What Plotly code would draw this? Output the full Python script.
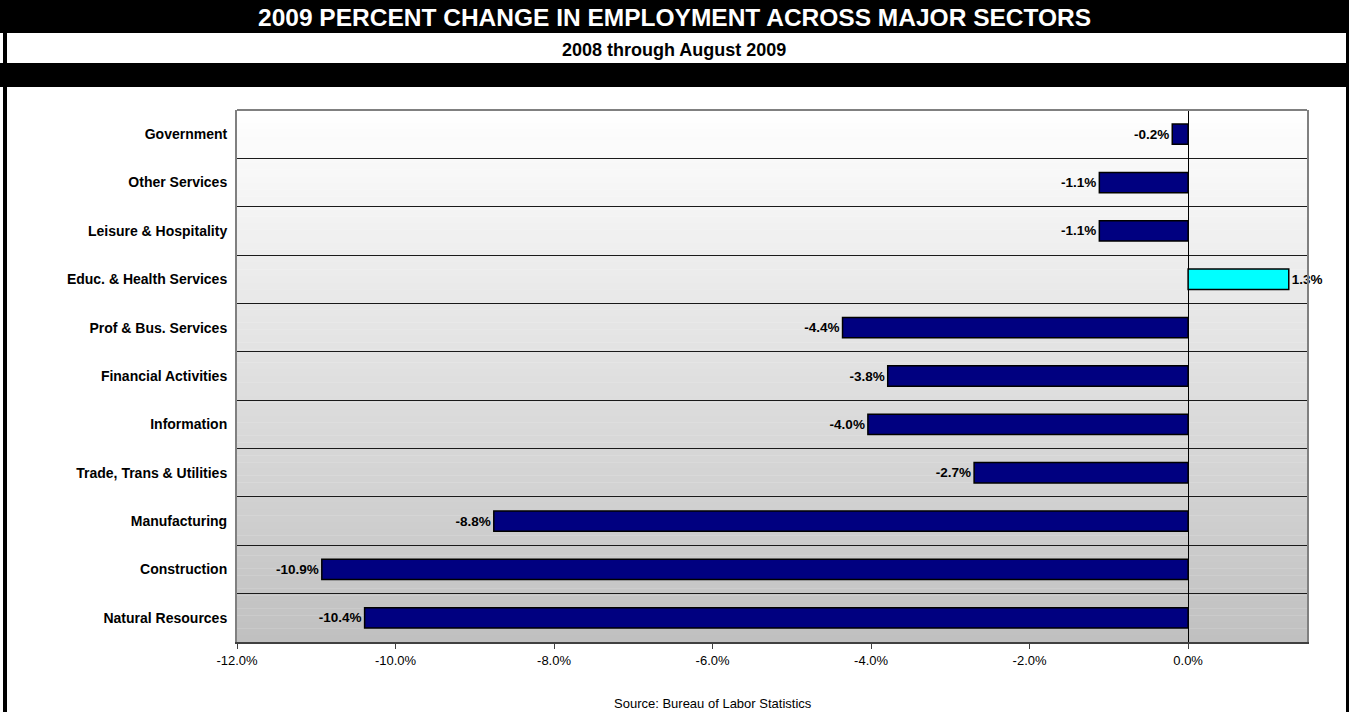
import plotly.graph_objects as go

# ---- data (top to bottom as shown) ----
sectors = [
    "Government",
    "Other Services",
    "Leisure & Hospitality",
    "Educ. & Health Services",
    "Prof & Bus. Services",
    "Financial Activities",
    "Information",
    "Trade, Trans & Utilities",
    "Manufacturing",
    "Construction",
    "Natural Resources",
]
pct_change = [-0.2, -1.12, -1.12, 1.27, -4.36, -3.79, -4.04, -2.70, -8.76, -10.93, -10.39]
x_tick_vals = [-12, -10, -8, -6, -4, -2, 0]
x_tick_text = ["-12.0%", "-10.0%", "-8.0%", "-6.0%", "-4.0%", "-2.0%", "0.0%"]

title_text = "2009 PERCENT CHANGE IN EMPLOYMENT ACROSS MAJOR SECTORS"
subtitle_text = "2008 through August 2009"
source_text = "Source: Bureau of Labor Statistics"

# ---- page geometry ----
W, H = 1349, 712
L, R, T, B = 237, 42, 110, 70
PW, PH = W - L - R, H - T - B


def px(xp):
    return (xp - L) / PW


def py(yp):
    return (H - B - yp) / PH


FONT = "Arial, 'Liberation Sans', sans-serif"

bar_colors = ["#00FFFF" if v > 0 else "#000080" for v in pct_change]

fig = go.Figure()
fig.add_trace(go.Bar(
    x=pct_change,
    y=sectors,
    orientation="h",
    marker=dict(color=bar_colors, line=dict(color="#000000", width=1.5)),
    texttemplate="%{x:.1f}%",
    textposition="outside",
    textfont=dict(family=FONT, size=13.5, color="#000000", weight="bold"),
    cliponaxis=False,
    hoverinfo="x+y",
))

shapes = []
# gradient background of plot area
N = 80
for i in range(N):
    c = int(round(255 - (255 - 192) * (i + 0.5) / N))
    shapes.append(dict(
        type="rect", xref="paper", yref="paper",
        x0=0, x1=1, y0=1 - (i + 1) / N, y1=1 - i / N + 0.0005,
        fillcolor=f"rgb({c},{c},{c})", line=dict(width=0), layer="below",
    ))
# top border of plot area
shapes.append(dict(type="line", xref="paper", yref="paper", x0=0, x1=1, y0=1, y1=1,
                   line=dict(color="#808080", width=2)))
# black title band
shapes.append(dict(type="rect", xref="paper", yref="paper",
                   x0=px(0), x1=px(W), y0=py(33), y1=py(0),
                   fillcolor="#000000", line=dict(width=0)))
# black band under subtitle
shapes.append(dict(type="rect", xref="paper", yref="paper",
                   x0=px(0), x1=px(W), y0=py(87), y1=py(63),
                   fillcolor="#000000", line=dict(width=0)))
# left frame border
shapes.append(dict(type="rect", xref="paper", yref="paper",
                   x0=px(3), x1=px(7), y0=py(H), y1=py(0),
                   fillcolor="#000000", line=dict(width=0)))
# right frame border
shapes.append(dict(type="rect", xref="paper", yref="paper",
                   x0=px(1346), x1=px(W), y0=py(H), y1=py(0),
                   fillcolor="#000000", line=dict(width=0)))

annotations = [
    dict(text=f"<b>{title_text}</b>", xref="paper", yref="paper",
         x=px(674), y=py(17), xanchor="center", yanchor="middle", showarrow=False,
         font=dict(family=FONT, size=24.5, color="#FFFFFF")),
    dict(text=f"<b>{subtitle_text}</b>", xref="paper", yref="paper",
         x=px(674), y=py(50), xanchor="center", yanchor="middle", showarrow=False,
         font=dict(family=FONT, size=18, color="#000000")),
    dict(text=source_text, xref="paper", yref="paper",
         x=px(713), y=py(703), xanchor="center", yanchor="middle", showarrow=False,
         font=dict(family=FONT, size=13, color="#000000")),
]

fig.update_layout(
    width=W, height=H,
    autosize=False,
    margin=dict(l=L, r=R, t=T, b=B, pad=0),
    paper_bgcolor="#FFFFFF",
    plot_bgcolor="rgba(0,0,0,0)",
    showlegend=False,
    bargap=0.58,
    shapes=shapes,
    annotations=annotations,
    font=dict(family=FONT, color="#000000"),
    xaxis=dict(
        range=[-12, 1.5],
        tickvals=x_tick_vals,
        ticktext=x_tick_text,
        tickfont=dict(family=FONT, size=13, color="#000000"),
        ticks="outside", ticklen=5, tickcolor="#404040", tickwidth=1,
        showgrid=False,
        zeroline=True, zerolinecolor="#000000", zerolinewidth=1,
        showline=True, linecolor="#404040", linewidth=2,
        fixedrange=True,
    ),
    yaxis=dict(
        categoryorder="array", categoryarray=sectors,
        autorange="reversed",
        tickson="boundaries",
        ticks="",
        showgrid=True, gridcolor="#1a1a1a", gridwidth=1,
        showline=True, linecolor="#808080", linewidth=2, mirror=True,
        tickfont=dict(family=FONT, size=14, color="#000000", weight="bold"),
        ticklabelstandoff=5,
        fixedrange=True,
    ),
)

fig.write_html(
    "out.html",
    config={"displayModeBar": False},
    post_script="document.body.style.margin='0';document.body.style.overflow='hidden';",
)
